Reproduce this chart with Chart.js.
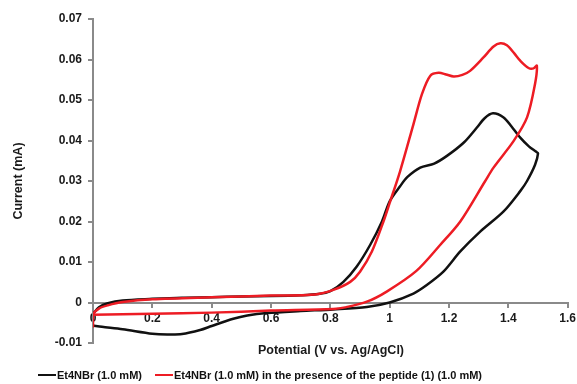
<!DOCTYPE html>
<html>
<head>
<meta charset="utf-8">
<script src="https://cdn.jsdelivr.net/npm/chart.js@4.4.0/dist/chart.umd.min.js"></script>
<style>
  html, body { margin: 0; padding: 0; background: #fff; }
  #wrap { position: relative; width: 577px; height: 384px; }
  #legend { position: absolute; left: 38px; top: 369px; font: bold 11px "Liberation Sans", Arial, sans-serif; color: #111; white-space: nowrap; display: flex; align-items: center; }
  .item { display: flex; align-items: center; margin-right: 13px; }
  .sw { display: inline-block; width: 18px; height: 2.5px; margin-right: 1px; }
  #xtitle { position: absolute; left: 331px; top: 350px; transform: translate(-50%, -50%); font: bold 12.5px "Liberation Sans", Arial, sans-serif; color: #1a1a1a; white-space: nowrap; }
</style>
</head>
<body>
<div id="wrap">
  <canvas id="c" width="577" height="384"></canvas>
  <div id="xtitle"></div>
  <div id="legend"></div>
</div>
<script>
// Series labels
const seriesLabels = ["Et4NBr (1.0 mM)", "Et4NBr (1.0 mM) in the presence of the peptide (1) (1.0 mM)"];
const seriesColors = ["#111111", "#ed1c24"];

// Et4NBr (1.0 mM): potential (V) and current (mA)
const blackX = [0, 0.02, 0.05, 0.1, 0.2, 0.3, 0.4, 0.5, 0.6, 0.7, 0.76, 0.8, 0.844, 0.889, 0.934, 0.974, 1.0, 1.035, 1.06, 1.103, 1.15, 1.193, 1.25, 1.294, 1.32, 1.348, 1.384, 1.41, 1.44, 1.47, 1.494, 1.5, 1.49, 1.463, 1.44, 1.384, 1.305, 1.238, 1.181, 1.125, 1.08, 1.0, 0.923, 0.81, 0.7, 0.586, 0.52, 0.473, 0.4, 0.361, 0.3, 0.25, 0.2, 0.1, 0.03, 0];
const blackY = [-0.0028, -0.0012, -0.0002, 0.0005, 0.0009, 0.0012, 0.0013, 0.0015, 0.0016, 0.0018, 0.0021, 0.0028, 0.0051, 0.0089, 0.0142, 0.0200, 0.0250, 0.0287, 0.0310, 0.0333, 0.0343, 0.0362, 0.0395, 0.0432, 0.0455, 0.0467, 0.0457, 0.0435, 0.0407, 0.0385, 0.0372, 0.0368, 0.0340, 0.0300, 0.0275, 0.0225, 0.0175, 0.0126, 0.0076, 0.0043, 0.0022, 0.0000, -0.0011, -0.0017, -0.0021, -0.0026, -0.0032, -0.0040, -0.0058, -0.0068, -0.0078, -0.0079, -0.0077, -0.0066, -0.0060, -0.0057];

// Et4NBr (1.0 mM) + peptide (1): potential (V) and current (mA)
const redX = [0, 0, 0.02, 0.05, 0.1, 0.2, 0.4, 0.6, 0.75, 0.81, 0.867, 0.9, 0.94, 0.979, 1.0, 1.035, 1.08, 1.109, 1.137, 1.165, 1.19, 1.216, 1.245, 1.271, 1.316, 1.35, 1.373, 1.395, 1.42, 1.44, 1.468, 1.485, 1.496, 1.49, 1.463, 1.418, 1.35, 1.322, 1.238, 1.17, 1.09, 0.99, 0.923, 0.85, 0.81, 0.6, 0.4, 0.2, 0];
const redY = [-0.0062, -0.0030, -0.0015, -0.0007, 0.0001, 0.0008, 0.0013, 0.0017, 0.0020, 0.0031, 0.0051, 0.0076, 0.0126, 0.0200, 0.0246, 0.0324, 0.0440, 0.0515, 0.0560, 0.0567, 0.0563, 0.0558, 0.0562, 0.0572, 0.0605, 0.0632, 0.0640, 0.0635, 0.0615, 0.0597, 0.0579, 0.0578, 0.0585, 0.0540, 0.0457, 0.0399, 0.0333, 0.0300, 0.0200, 0.0142, 0.0078, 0.0027, 0.0002, -0.0012, -0.0016, -0.0020, -0.0025, -0.0028, -0.0030];

// Axis ranges / ticks
const xTicks = [0, 0.2, 0.4, 0.6, 0.8, 1, 1.2, 1.4, 1.6];
const yTicks = [-0.01, 0, 0.01, 0.02, 0.03, 0.04, 0.05, 0.06, 0.07];
const xTitle = "Potential (V vs. Ag/AgCl)";
const yTitle = "Current (mA)";

const toPts = (xs, ys) => xs.map((x, i) => ({ x: x, y: ys[i] }));
const FONT = "'Liberation Sans', Arial, sans-serif";
const AXIS = "#8a8a8a";

new Chart(document.getElementById('c'), {
  type: 'scatter',
  data: {
    datasets: [
      { label: seriesLabels[0], data: toPts(blackX, blackY), borderColor: seriesColors[0], showLine: true, pointRadius: 0, borderWidth: 2.5, tension: 0.3, order: 1 },
      { label: seriesLabels[1], data: toPts(redX, redY), borderColor: seriesColors[1], showLine: true, pointRadius: 0, borderWidth: 2.5, tension: 0.3, order: 0 }
    ]
  },
  options: {
    responsive: false,
    animation: false,
    layout: { padding: { top: 19, right: 9.3, bottom: 41, left: 0 } },
    plugins: { legend: { display: false }, tooltip: { enabled: false } },
    scales: {
      x: {
        type: 'linear', min: xTicks[0], max: xTicks[xTicks.length - 1],
        position: { y: 0 },
        afterBuildTicks: s => { s.ticks = xTicks.map(v => ({ value: v })); },
        afterFit: s => { s.paddingLeft = 0; s.paddingRight = 0; },
        ticks: { color: '#1a1a1a', font: { family: FONT, size: 12, weight: 'bold' }, padding: 5, maxRotation: 0, autoSkip: false,
                 callback: v => String(Number(v.toFixed(1))) },
        grid: { drawOnChartArea: false, drawTicks: true, tickLength: 4, color: AXIS, lineWidth: 2 },
        border: { display: true, color: AXIS, width: 2 }
      },
      y: {
        type: 'linear', min: yTicks[0], max: yTicks[yTicks.length - 1],
        afterBuildTicks: s => { s.ticks = yTicks.map(v => ({ value: v })); },
        afterFit: s => { s.width = 93; },
        ticks: { color: '#1a1a1a', font: { family: FONT, size: 12, weight: 'bold' }, padding: 6, autoSkip: false,
                 callback: v => String(Number(v.toFixed(2))) },
        grid: { drawOnChartArea: false, drawTicks: true, tickLength: 5, color: AXIS, lineWidth: 2 },
        border: { display: true, color: AXIS, width: 2 },
        title: { display: true, text: yTitle, color: '#1a1a1a', font: { family: FONT, size: 12.5, weight: 'bold' }, padding: { top: 11, bottom: 4 } }
      }
    }
  }
});

document.getElementById('xtitle').textContent = xTitle;

// HTML legend built from the series labels
const lg = document.getElementById('legend');
seriesLabels.forEach((t, i) => {
  const it = document.createElement('span'); it.className = 'item';
  const sw = document.createElement('span'); sw.className = 'sw'; sw.style.background = seriesColors[i];
  const tx = document.createElement('span'); tx.textContent = t;
  it.appendChild(sw); it.appendChild(tx); lg.appendChild(it);
});
</script>
</body>
</html>
